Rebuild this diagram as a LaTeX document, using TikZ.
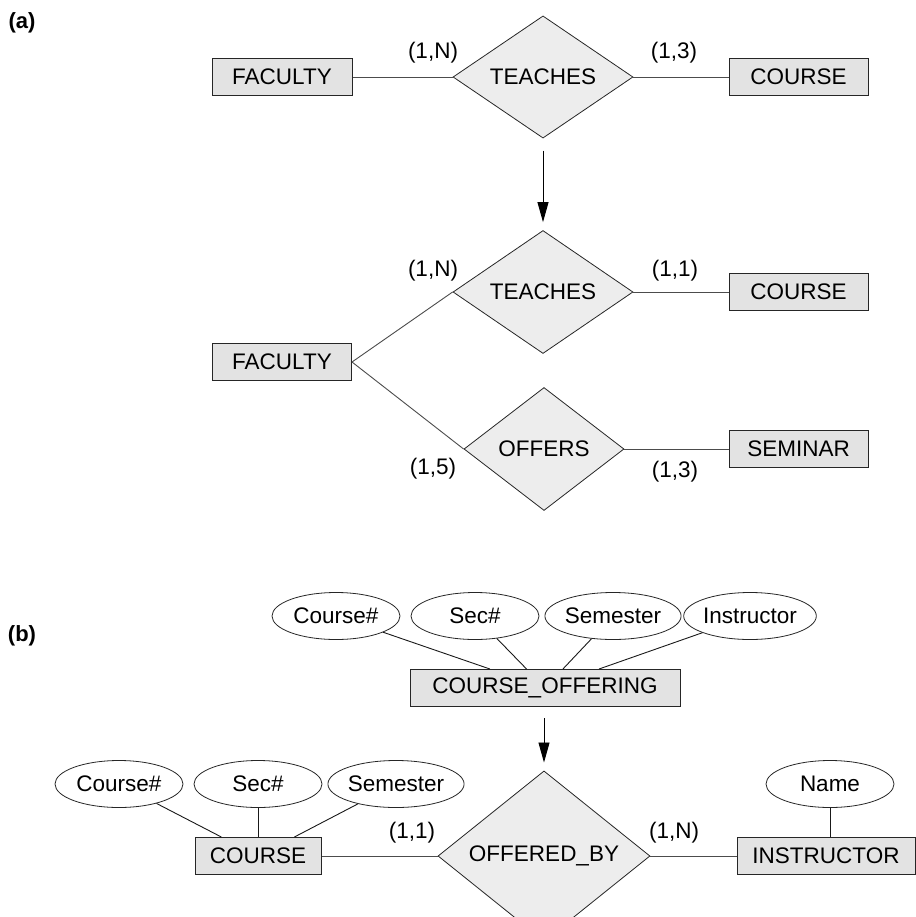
\documentclass[tikz,border=0pt]{standalone}
\usepackage{fontspec}
\setmainfont{Liberation Sans}
\usetikzlibrary{shapes.geometric,arrows.meta}
\newcommand\fsz{\fontsize{22.5bp}{26bp}\selectfont}
\begin{document}
\begin{tikzpicture}[x=1bp,y=-1bp,
  ent/.style={draw=black!85, fill=black!11, line width=1bp, minimum height=37bp, inner sep=0pt, font=\fsz},
  rel/.style={diamond, draw=black!85, fill=black!7, line width=0.8bp, inner sep=0pt, font=\fsz},
  attr/.style={ellipse, draw=black!85, fill=white, line width=0.8bp, minimum width=128bp, minimum height=47bp, inner sep=0pt, font=\fsz},
  lab/.style={font=\fsz, inner sep=0pt},
  conn/.style={draw=black!70, line width=0.9bp},
  aconn/.style={draw=black!90, line width=0.9bp},
  arr/.style={draw=black, line width=0.9bp, -{Triangle[length=20bp,width=11bp]}},
  part/.style={font=\fontsize{22bp}{26bp}\selectfont\bfseries, inner sep=0pt}
]
\useasboundingbox (0,0) rectangle (916,917);

% ---------- (a) ----------
\node[part] (pa) at (22,23) {(a)};
\node[ent, minimum width=140bp] (fac1) at (282,77) {FACULTY};
\node[rel, minimum width=180bp, minimum height=122bp] (tea1) at (543,77) {TEACHES};
\node[ent, minimum width=139bp] (cou1) at (798.5,77) {COURSE};
\node[lab] (l1) at (433,53) {(1,N)};
\node[lab] (l2) at (674,53) {(1,3)};
\draw[conn] (fac1) -- (tea1);
\draw[conn] (tea1) -- (cou1);

\node[ent, minimum width=139bp] (fac2) at (282,362) {FACULTY};
\node[rel, minimum width=180bp, minimum height=123bp] (tea2) at (543,292) {TEACHES};
\node[ent, minimum width=139bp] (cou2) at (798.5,292) {COURSE};
\node[rel, minimum width=160bp, minimum height=123bp] (off) at (544,449) {OFFERS};
\node[ent, minimum width=139bp] (sem) at (798.5,449) {SEMINAR};
\node[lab] (l3) at (433,271) {(1,N)};
\node[lab] (l4) at (675,271) {(1,1)};
\node[lab] (l5) at (433,469) {(1,5)};
\node[lab] (l6) at (675,472) {(1,3)};
\draw[conn] (fac2.east) -- (tea2.west);
\draw[conn] (fac2.east) -- (off.west);
\draw[conn] (tea2) -- (cou2);
\draw[conn] (off) -- (sem);

\draw[arr, shorten <=12bp, shorten >=8bp] (tea1.south) -- (tea2.north);

% ---------- (b) ----------
\node[part] (pb) at (22,636) {(b)};
\node[attr] (ca1) at (336,616) {Course\#};
\node[attr] (sa1) at (475,616) {Sec\#};
\node[attr] (ma1) at (613,616) {Semester};
\node[attr] (ia1) at (750,616) {Instructor};
\node[ent, minimum width=270bp] (cof) at (545,688) {COURSE\_OFFERING};
\foreach \a in {ca1,sa1,ma1,ia1} \draw[aconn] (\a) -- (cof);

\node[attr] (ca2) at (119,784) {Course\#};
\node[attr] (sa2) at (258,784) {Sec\#};
\node[attr] (ma2) at (396,784) {Semester};
\node[attr] (na2) at (830,784) {Name};
\node[ent, minimum width=126bp] (cou3) at (258,856) {COURSE};
\node[rel, minimum width=212bp, minimum height=118bp] (obd) at (544,856) {OFFERED\_BY};
\node[ent, minimum width=178bp] (ins) at (826,856) {INSTRUCTOR};
\node[lab] (l7) at (412,833) {(1,1)};
\node[lab] (l8) at (674,833) {(1,N)};
\foreach \a in {ca2,sa2,ma2} \draw[aconn] (\a) -- (cou3);
\draw[aconn] (na2.south) -- (na2.south |- ins.north);
\draw[conn] (cou3) -- (obd);
\draw[conn] (obd) -- (ins);

\draw[arr, shorten <=11bp, shorten >=8bp] (obd.north |- cof.south) -- (obd.north);
\end{tikzpicture}
\end{document}
